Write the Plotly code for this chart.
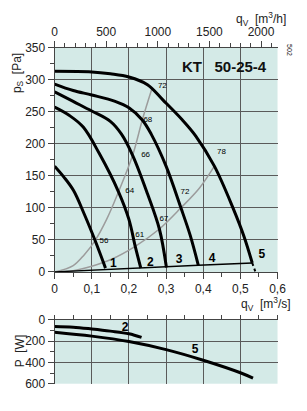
import plotly.graph_objects as go

# ---------------- data ----------------
# fan curves: flow q [m3/s], static pressure p [Pa]
c1_q = [0, 0.025, 0.051, 0.08, 0.109, 0.137]
c1_p = [165, 148, 127, 90, 49, 6]
c2_q = [0, 0.04, 0.077, 0.12, 0.172, 0.2, 0.217, 0.232]
c2_p = [257, 244, 226, 185, 125, 82, 40, 6]
c3_q = [0, 0.05, 0.1, 0.15, 0.18, 0.21, 0.25, 0.282, 0.301]
c3_p = [281, 266, 251, 235, 215, 182, 122, 67, 7]
c4_q = [0, 0.05, 0.1, 0.163, 0.2, 0.236, 0.26, 0.3, 0.34, 0.365, 0.387]
c4_p = [293, 283, 276, 266, 256, 237, 215, 165, 100, 57, 10]
c5_q = [0, 0.1, 0.15, 0.2, 0.25, 0.292, 0.344, 0.38, 0.43, 0.48, 0.51, 0.532]
c5_p = [313, 312, 309, 304, 292, 268, 237, 212, 165, 100, 55, 14]

# system line and dotted tail
sys_q = [0, 0.05, 0.137, 0.232, 0.301, 0.387, 0.532]
sys_p = [0, 1.5, 4, 6, 8, 10.5, 14]
tail_q = [0.532, 0.536, 0.540]
tail_p = [14, 7, 1]

# efficiency (iso-sound) curves
effL_q = [0, 0.05, 0.08, 0.109, 0.14, 0.172, 0.21, 0.236, 0.262]
effL_p = [0, 10, 27, 49, 82, 125, 182, 237, 286]
effR_q = [0, 0.05, 0.1, 0.15, 0.217, 0.282, 0.34, 0.39, 0.43]
effR_p = [0, 2, 9, 19, 40, 67, 100, 131, 165]

# efficiency label positions
eff_lab_q = [0.133, 0.202, 0.245, 0.251, 0.290, 0.229, 0.294, 0.351, 0.449]
eff_lab_p = [49, 127, 183, 237, 290, 58, 82, 124, 187]
eff_lab_t = ["56", "64", "66", "68", "72", "61", "67", "72", "78"]

curve_lab_q = [0.158, 0.258, 0.335, 0.424, 0.558]
curve_lab_p = [12, 14, 18, 20, 27]
curve_lab_t = ["1", "2", "3", "4", "5"]

# power curves
P2_q = [0, 0.05, 0.1, 0.15, 0.2, 0.234]
P2_W = [61, 68, 85, 105, 130, 164]
P5_q = [0, 0.1, 0.2, 0.3, 0.4, 0.5, 0.534]
P5_W = [115, 152, 203, 279, 379, 497, 548]
P_lab_q = [0.19, 0.378]
P_lab_W = [75, 285]
P_lab_t = ["2", "5"]

x_ticks = [0, 0.1, 0.2, 0.3, 0.4, 0.5, 0.6]
x_tick_text = ["0", "0,1", "0,2", "0,3", "0,4", "0,5", "0,6"]
top_ticks = [0, 500, 1000, 1500, 2000]
y_ticks = [0, 50, 100, 150, 200, 250, 300, 350]
P_ticks = [0, 200, 400, 600]

# ---------------- figure ----------------
BG = "#d4eae7"
GRID = "#5a5a5a"
FONT = "Liberation Sans, Arial, sans-serif"

fig = go.Figure()

for q, p in [(effL_q, effL_p), (effR_q, effR_p)]:
    fig.add_trace(go.Scatter(x=q, y=p, mode="lines", line=dict(color="#9c9c9c", width=1.5, shape="spline"),
                             xaxis="x", yaxis="y", hoverinfo="skip"))

fig.add_trace(go.Scatter(x=sys_q, y=sys_p, mode="lines", line=dict(color="black", width=1.3),
                         xaxis="x", yaxis="y"))
fig.add_trace(go.Scatter(x=tail_q, y=tail_p, mode="lines", line=dict(color="black", width=2, dash="dot"),
                         xaxis="x", yaxis="y"))

for q, p in [(c1_q, c1_p), (c2_q, c2_p), (c3_q, c3_p), (c4_q, c4_p), (c5_q, c5_p)]:
    fig.add_trace(go.Scatter(x=q, y=p, mode="lines", line=dict(color="black", width=3, shape="spline"),
                             xaxis="x", yaxis="y"))

fig.add_trace(go.Scatter(x=eff_lab_q, y=eff_lab_p, mode="text", text=eff_lab_t,
                         textposition="middle center", textfont=dict(size=8, color="black", family=FONT),
                         xaxis="x", yaxis="y"))
fig.add_trace(go.Scatter(x=curve_lab_q, y=curve_lab_p, mode="text", text=curve_lab_t,
                         textfont=dict(size=12, color="black", family="Liberation Sans", weight="bold"),
                         xaxis="x", yaxis="y"))

# dummy trace for top axis
fig.add_trace(go.Scatter(x=[0, 2160], y=[None, None], mode="lines", xaxis="x2", yaxis="y", showlegend=False))

for q, w in [(P2_q, P2_W), (P5_q, P5_W)]:
    fig.add_trace(go.Scatter(x=q, y=w, mode="lines", line=dict(color="black", width=3, shape="spline"),
                             xaxis="x3", yaxis="y3"))
fig.add_trace(go.Scatter(x=P_lab_q, y=P_lab_W, mode="text", text=P_lab_t,
                         textfont=dict(size=12, color="black", family="Liberation Sans", weight="bold"),
                         xaxis="x3", yaxis="y3"))

xdom = [53.7 / 307, 285.7 / 307]
ydom_main = [1 - 274.3 / 411, 1 - 42 / 411]
ydom_low = [1 - 390 / 411, 1 - 324 / 411]

tickfont = dict(size=12, color="#222", family=FONT)

fig.update_layout(
    width=307, height=411, margin=dict(l=0, r=0, t=0, b=0),
    paper_bgcolor="white", plot_bgcolor=BG, showlegend=False,
    font=dict(family=FONT, color="#222"),
    xaxis=dict(domain=xdom, anchor="y", range=[0, 0.6], tickvals=x_ticks, ticktext=x_tick_text,
               showgrid=True, gridcolor=GRID, gridwidth=0.8, zeroline=False,
               ticks="outside", ticklen=6, tickcolor="#444", tickfont=tickfont,
               showline=True, linecolor="#444", linewidth=1,
               minor=dict(dtick=0.05, ticks="outside", ticklen=4, tickcolor="#444", showgrid=False)),
    xaxis2=dict(overlaying="x", side="top", anchor="y", range=[0, 2160], tickvals=top_ticks,
                showgrid=False, zeroline=False, ticks="outside", ticklen=6, tickcolor="#444",
                tickfont=tickfont, showline=True, linecolor="#444", linewidth=1,
                minor=dict(dtick=100, ticks="outside", ticklen=4, tickcolor="#444", showgrid=False)),
    yaxis=dict(domain=ydom_main, anchor="x", range=[0, 350], tickvals=y_ticks,
               showgrid=True, gridcolor=GRID, gridwidth=0.8, zeroline=False,
               ticks="outside", ticklen=6, tickcolor="#444", tickfont=tickfont,
               showline=True, linecolor="#444", linewidth=1,
               minor=dict(dtick=25, ticks="outside", ticklen=4, tickcolor="#444", showgrid=False)),
    xaxis3=dict(domain=xdom, anchor="y3", range=[0, 0.6], dtick=0.1, showticklabels=False,
                showgrid=True, gridcolor=GRID, gridwidth=0.8, zeroline=False,
                ticks="", showline=False, mirror=False),
    yaxis3=dict(domain=ydom_low, anchor="x3", range=[600, 0], tickvals=P_ticks,
                showgrid=True, gridcolor=GRID, gridwidth=0.8, zeroline=False,
                ticks="outside", ticklen=6, tickcolor="#444", tickfont=tickfont,
                showline=True, linecolor="#444", linewidth=1,
                minor=dict(dtick=100, ticks="outside", ticklen=4, tickcolor="#444", showgrid=False)),
)

# top edge ticks of lower panel
fig.add_trace(go.Scatter(x=[0, 0.6], y=[None, None], xaxis="x4", yaxis="y3"))
fig.update_layout(xaxis4=dict(overlaying="x3", side="top", anchor="y3", range=[0, 0.6], dtick=0.1,
                              showticklabels=False, showgrid=False, zeroline=False, ticks="outside",
                              ticklen=4, tickcolor="#444", showline=True, linecolor="#444", linewidth=1,
                              minor=dict(dtick=0.05, ticks="outside", ticklen=4, tickcolor="#444")))

ann = [
    dict(text="<b>KT   50-25-4</b>", x=230, y=62, size=15, color="#111"),
    dict(text="q<sub>V</sub>  [m<sup>3</sup>/h]", x=268, y=12, size=12),
    dict(text="q<sub>V</sub>  [m<sup>3</sup>/s]", x=274, y=307, size=12),
    dict(text="p<sub>S</sub>  [Pa]", x=15, y=68, size=12, textangle=-90),
    dict(text="P  [W]", x=18, y=356, size=12, textangle=-90),
    dict(text="502", x=298, y=45, size=7, textangle=90),
]
for a in ann:
    fig.add_annotation(text=a["text"], x=a["x"] / 307, y=1 - a["y"] / 411, xref="paper", yref="paper",
                       showarrow=False, xanchor="center", yanchor="middle",
                       font=dict(family=FONT, color=a.get("color", "#222"), size=a["size"]),
                       textangle=a.get("textangle", 0))

fig.write_html("out.html")
